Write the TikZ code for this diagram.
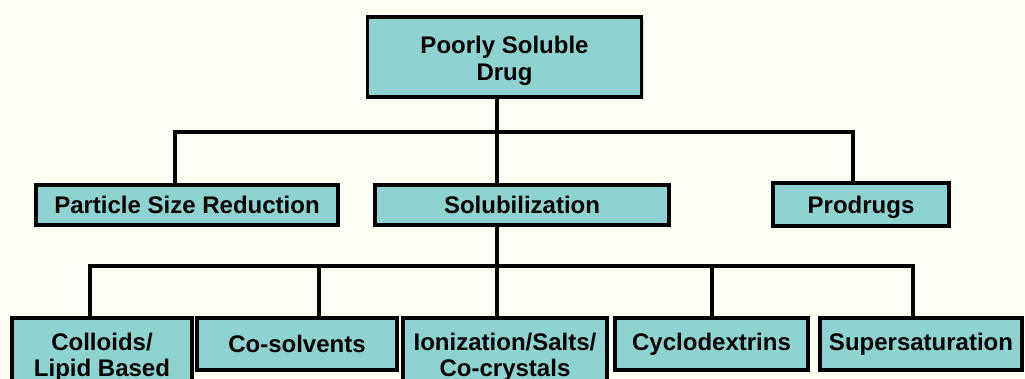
\documentclass[tikz,border=0pt]{standalone}
\usepackage{fontspec}
\setmainfont{Liberation Sans}
\usetikzlibrary{shadows}
\definecolor{paper}{RGB}{255,254,244}
\definecolor{boxfill}{RGB}{143,210,210}
\begin{document}
\begin{tikzpicture}[x=1pt,y=-1pt,
  box/.style={draw=black,line width=3.5pt,fill=boxfill,align=center,
    font=\fontsize{24}{26}\selectfont\bfseries,inner sep=0pt,
    drop shadow={shadow xshift=2pt,shadow yshift=-2pt,fill=black,opacity=0.15}},
  link/.style={line width=4pt,line cap=rect}]
\useasboundingbox[fill=paper] (0,0) rectangle (1025,379);
\clip (0,0) rectangle (1025,379);

% top of the tree
\node[box,minimum width=274pt,minimum height=80pt,text height=52pt] (drug) at (504.5,57) {Poorly Soluble\\[1pt]Drug};

% first level
\node[box,minimum width=302pt,minimum height=40pt] (psr) at (187,205) {Particle Size Reduction};
\node[box,minimum width=294pt,minimum height=40pt] (sol) at (522,205) {Solubilization};
\node[box,minimum width=176pt,minimum height=43pt,text depth=0pt] (pro) at (861,204.5) {Prodrugs};

% second level
\node[box,minimum width=180pt,minimum height=78pt] (col) at (102,357) {Colloids/\\Lipid Based};
\node[box,minimum width=200pt,minimum height=52pt] (cos) at (297,344) {Co-solvents};
\node[box,minimum width=204pt,minimum height=78pt] (ion) at (505,357) {Ionization/Salts/\\Co-crystals};
\node[box,minimum width=193pt,minimum height=52pt] (cyc) at (711.5,344) {Cyclodextrins};
\node[box,minimum width=202pt,minimum height=52pt] (sup) at (921,344) {Supersaturation};

% bus lines
\coordinate (b1) at (497,132);
\coordinate (b1l) at (175,132);
\coordinate (b1r) at (853,132);
\coordinate (b2) at (497,266);
\coordinate (b2a) at (90,266);
\coordinate (b2b) at (319,266);
\coordinate (b2d) at (712,266);
\coordinate (b2e) at (913,266);

\draw[link] (b1 |- drug.south) -- (b1);
\draw[link] (b1l) -- (b1r);
\draw[link] (b1l) -- (b1l |- psr.north);
\draw[link] (b1) -- (b1 |- sol.north);
\draw[link] (b1r) -- (b1r |- pro.north);

\draw[link] (b2 |- sol.south) -- (b2);
\draw[link] (b2a) -- (b2e);
\draw[link] (b2a) -- (b2a |- col.north);
\draw[link] (b2b) -- (b2b |- cos.north);
\draw[link] (b2) -- (b2 |- ion.north);
\draw[link] (b2d) -- (b2d |- cyc.north);
\draw[link] (b2e) -- (b2e |- sup.north);
\end{tikzpicture}
\end{document}
